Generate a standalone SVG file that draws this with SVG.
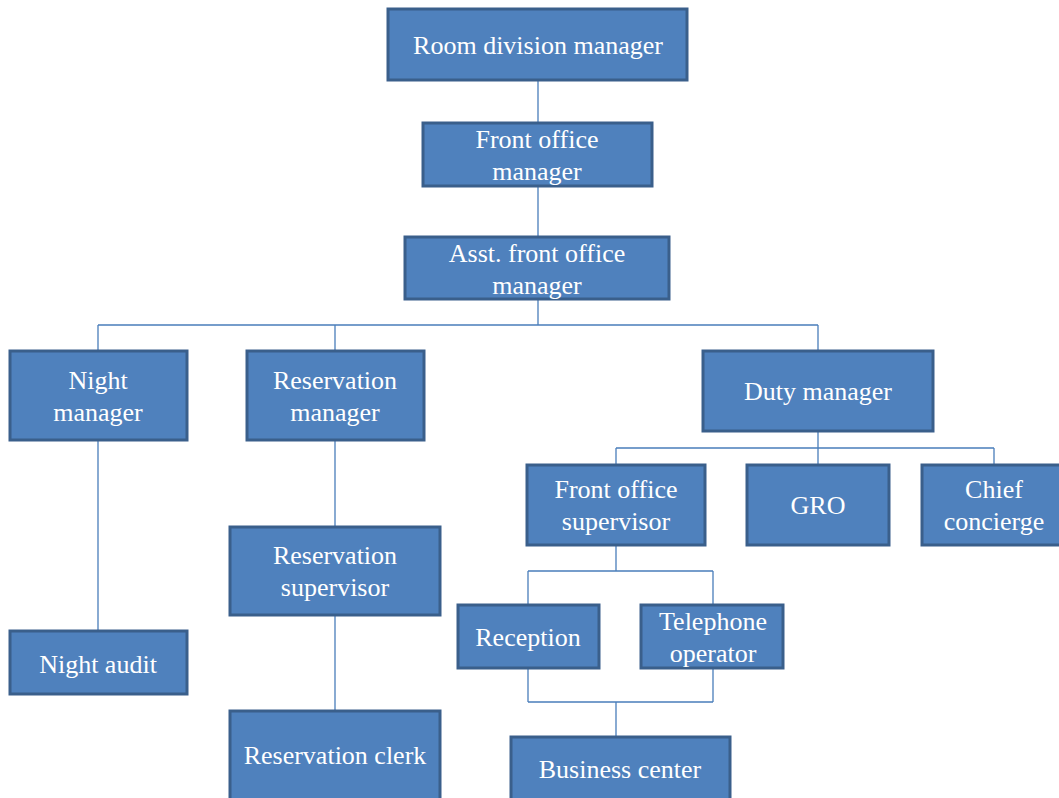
<svg xmlns="http://www.w3.org/2000/svg" width="1059" height="798" viewBox="0 0 1059 798">
<style>
.box{fill:#4F81BD;stroke:#3A5F8B;stroke-width:3}
.t{font-family:"Liberation Serif","Times New Roman",serif;font-size:26px;fill:#FFFFFF;text-anchor:middle;dominant-baseline:central}
.c{fill:none;stroke:#4A7EBB;stroke-width:1.3}
</style>
<rect width="1059" height="798" fill="#FFFFFF"/>
<g id="connectors">
<path class="c" d="M538 80V123M538 186V237M538 299V325M98 325H818M98 325V351M335 325V351M818 325V351"/>
<path class="c" d="M98 440V631M335 440V527M335 615V711"/>
<path class="c" d="M818 431V465M616 448H994M616 448V465M994 448V465"/>
<path class="c" d="M616 545V571M528 571H713M528 571V605M713 571V605"/>
<path class="c" d="M528 668V702M713 668V702M528 702H713M616 702V737"/>
</g>
<g id="n-room"><rect class="box" x="388" y="9" width="299" height="71"/><text class="t" x="538" y="45">Room division manager</text></g>
<g id="n-fom"><rect class="box" x="423" y="123" width="229" height="63"/><text class="t" x="537" y="139">Front office</text><text class="t" x="537" y="171">manager</text></g>
<g id="n-afom"><rect class="box" x="405" y="237" width="264" height="62"/><text class="t" x="537" y="253">Asst. front office</text><text class="t" x="537" y="285">manager</text></g>
<g id="n-night"><rect class="box" x="10" y="351" width="177" height="89"/><text class="t" x="98" y="380">Night</text><text class="t" x="98" y="412">manager</text></g>
<g id="n-resmgr"><rect class="box" x="247" y="351" width="177" height="89"/><text class="t" x="335" y="380">Reservation</text><text class="t" x="335" y="412">manager</text></g>
<g id="n-duty"><rect class="box" x="703" y="351" width="230" height="80"/><text class="t" x="818" y="391">Duty manager</text></g>
<g id="n-fos"><rect class="box" x="527" y="465" width="178" height="80"/><text class="t" x="616" y="489">Front office</text><text class="t" x="616" y="521">supervisor</text></g>
<g id="n-gro"><rect class="box" x="747" y="465" width="142" height="80"/><text class="t" x="818" y="505">GRO</text></g>
<g id="n-chief"><rect class="box" x="922" y="465" width="140" height="80"/><text class="t" x="994" y="489">Chief</text><text class="t" x="994" y="521">concierge</text></g>
<g id="n-ressup"><rect class="box" x="230" y="527" width="210" height="88"/><text class="t" x="335" y="555">Reservation</text><text class="t" x="335" y="587">supervisor</text></g>
<g id="n-reception"><rect class="box" x="458" y="605" width="141" height="63"/><text class="t" x="528" y="637">Reception</text></g>
<g id="n-tel"><rect class="box" x="641" y="605" width="142" height="63"/><text class="t" x="713" y="621">Telephone</text><text class="t" x="713" y="653">operator</text></g>
<g id="n-audit"><rect class="box" x="10" y="631" width="177" height="63"/><text class="t" x="98" y="664">Night audit</text></g>
<g id="n-clerk"><rect class="box" x="230" y="711" width="210" height="92"/><text class="t" x="335" y="755">Reservation clerk</text></g>
<g id="n-business"><rect class="box" x="511" y="737" width="219" height="66"/><text class="t" x="620" y="769">Business center</text></g>
</svg>
